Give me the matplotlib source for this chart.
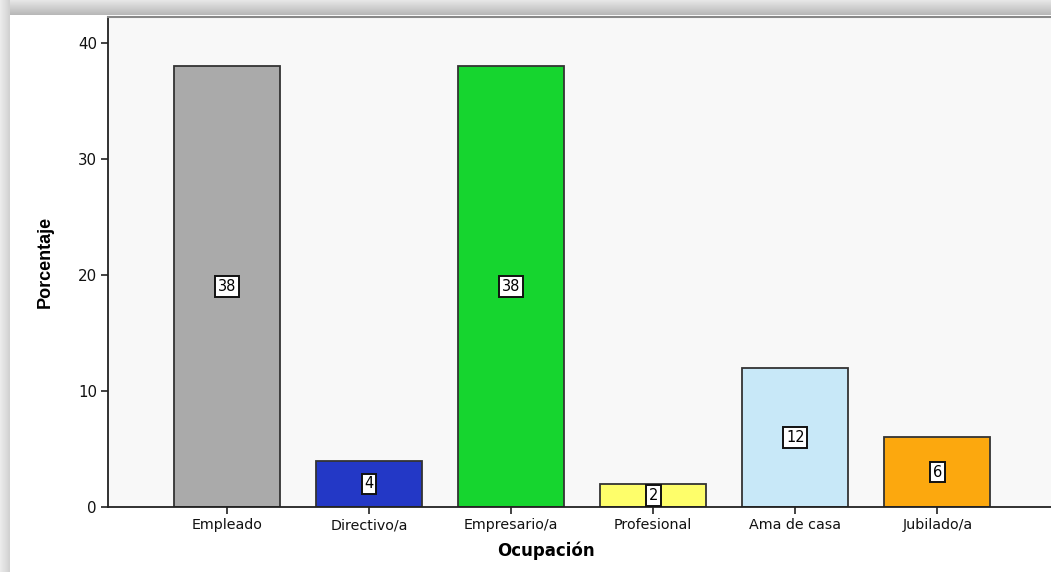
import numpy as np
import matplotlib
matplotlib.use("Agg")
import matplotlib.pyplot as plt

categories = ["Empleado", "Directivo/a", "Empresario/a", "Profesional", "Ama de casa", "Jubilado/a"]
values = [38, 4, 38, 2, 12, 6]
colors = ["#aaaaaa", "#2338c6", "#16d52f", "#fefe6a", "#c8e8f8", "#fca80e"]
yticks = [0, 10, 20, 30, 40]

W, H = 1051, 572
fig = plt.figure(figsize=(W / 100, H / 100), dpi=100)
fig.patch.set_facecolor("white")

# shadow frame (top and left gradients)
bg = fig.add_axes([0, 0, 1, 1], zorder=-10)
topgrad = np.linspace(0.90, 0.72, 15).reshape(-1, 1)
bg.imshow(np.repeat(topgrad, 2, axis=1), extent=(0, W, 15, 0), cmap="gray", vmin=0, vmax=1, aspect="auto")
leftgrad = np.linspace(0.92, 0.82, 10).reshape(1, -1)
bg.imshow(np.repeat(leftgrad, 2, axis=0), extent=(0, 10, H, 0), cmap="gray", vmin=0, vmax=1, aspect="auto")
bg.set_xlim(0, W); bg.set_ylim(H, 0); bg.axis("off")

ax = fig.add_axes([108 / W, 65 / H, 1 - 108 / W, (507 - 17) / H])
ax.set_facecolor("#f8f8f8")
x = np.arange(len(categories))
ax.bar(x, values, width=0.746, color=colors, edgecolor="#333333", linewidth=1.3, zorder=2)
for xi, v in zip(x, values):
    ax.text(xi, v / 2, str(v), ha="center", va="center", fontsize=10.5, color="black", zorder=3,
            family="DejaVu Sans",
            bbox=dict(boxstyle="square,pad=0.18", facecolor="white", edgecolor="#111111", linewidth=1.4))

ax.set_xlim(-0.838, 5.80)
ax.set_ylim(0, 42.24)
ax.set_xticks(x)
ax.set_xticklabels(categories, fontsize=10.3, family="DejaVu Sans", color="#111111")
ax.set_yticks(yticks)
ax.set_yticklabels([str(t) for t in yticks], fontsize=10.8, family="DejaVu Sans", color="#111111")
ax.tick_params(axis="both", direction="out", length=5, width=1.2, color="#222222", pad=3)
ax.spines["right"].set_visible(False)
ax.spines["top"].set_color("#888888")
ax.spines["top"].set_linewidth(1.5)
for s in ["left", "bottom"]:
    ax.spines[s].set_linewidth(1.3)
    ax.spines[s].set_color("#222222")

fig.text(45 / W, 1 - 262 / H, "Porcentaje", rotation=90, ha="center", va="center",
         fontsize=13, fontweight="bold", family=["Liberation Sans", "DejaVu Sans"])
fig.text(546 / W, 1 - 551 / H, "Ocupación", ha="center", va="center", fontsize=12, fontweight="bold",
         family="DejaVu Sans")

fig.savefig("out.png", dpi=100)
